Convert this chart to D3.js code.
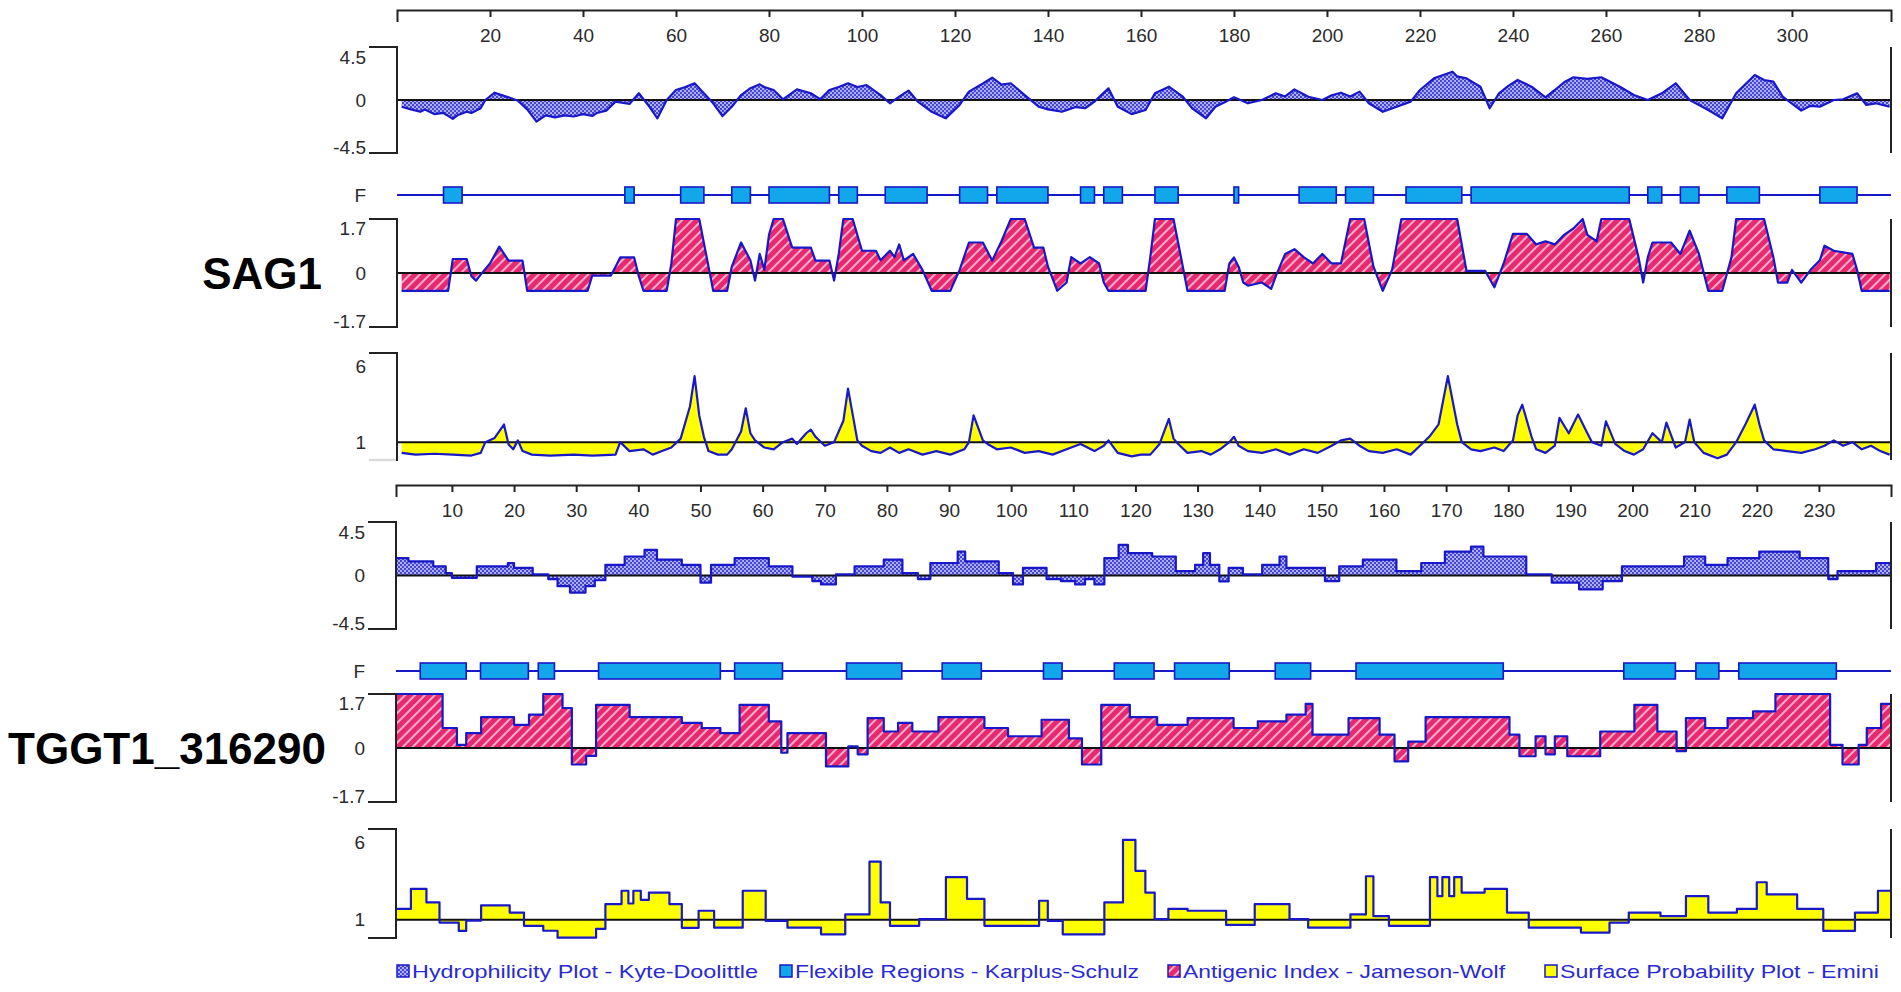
<!DOCTYPE html>
<html>
<head>
<meta charset="utf-8">
<script src="https://cdn.jsdelivr.net/npm/d3@7"></script>
<style>
  body { margin: 0; background: #fff; }
  svg text { font-family: "Liberation Sans", Arial, sans-serif; }
</style>
</head>
<body>
<svg id="chart" width="1901" height="992"></svg>
<script>
// ---- SAG1 (residue, value) ----
const sag1Ticks = [20, 40, 60, 80, 100, 120, 140, 160, 180, 200, 220, 240, 260, 280, 300];

const sag1Hydro = [
  [1,-0.57],[3,-0.8],[5,-1.0],[6,-0.8],[8,-1.2],[10,-1.1],[12,-1.6],[13,-1.3],[15,-1.0],[16,-1.1],[18,-0.7],[19,0],[21,0.62],
  [23,0.35],[24,0.23],[26,-0.06],[28,-0.8],[30,-1.84],[32,-1.3],[34,-1.47],[36,-1.3],[38,-1.4],[40,-1.2],[42,-1.36],
  [43,-1.1],[45,-0.9],[47,-0.14],[50,-0.34],[52,0.57],[54,-0.42],[56,-1.56],[58,0],[60,0.85],[62,1.1],[64,1.42],[66,0.57],
  [68,-0.28],[70,-1.36],[72,-0.57],[74,0.42],[76,1.0],[78,1.33],[79,1.1],[81,0.85],[83,0.06],[86,0.9],[89,0.57],[91,0.06],
  [93,0.85],[95,1.1],[97,1.42],[99,1.1],[101,1.27],[104,0.42],[106,-0.28],[108,0.28],[110,0.8],[112,-0.14],[115,-1.0],
  [118,-1.56],[121,-0.42],[123,0.71],[126,1.4],[128,1.9],[130,1.3],[132,1.42],[135,0.42],[138,-0.57],[140,-0.8],
  [143,-1.0],[146,-0.6],[148,-0.7],[150,-0.14],[153,0.99],[155,-0.57],[158,-1.2],[161,-0.85],[163,0.57],[166,1.13],
  [169,0.28],[171,-0.7],[174,-1.56],[176,-0.57],[178,-0.2],[180,0.23],[183,-0.28],[186,0],[189,0.57],[191,0.3],[193,0.9],
  [196,0.28],[199,0],[201,0.4],[203,0.62],[205,0.3],[207,0.71],[209,-0.28],[212,-1.0],[215,-0.57],[218,-0.14],[220,0.85],
  [223,1.84],[227,2.4],[228,2.0],[230,1.84],[233,1.13],[235,-0.7],[237,0.57],[239,1.2],[241,1.7],[244,1.13],[247,0.23],
  [249,0.85],[251,1.5],[253,1.93],[256,1.8],[259,1.93],[263,1.13],[266,0.42],[269,0],[272,0.57],[275,1.42],[278,0],
  [282,-0.85],[285,-1.56],[288,0.57],[292,2.12],[294,1.7],[296,1.56],[298,0.28],[302,-0.9],[304,-0.5],[306,-0.57],
  [309,0],[311,0.06],[314,0.57],[316,-0.42],[318,-0.28],[321,-0.57]
];

const sag1Flex = [
  [10,14],[49,51],[61,66],[72,76],[80,93],[95,99],[105,114],[121,127],[129,140],[147,150],[152,156],[163,168],
  [180,181],[194,202],[204,210],[217,229],[231,265],[269,272],[276,280],[286,293],[306,314]
];

const sag1Anti = [
  [1,-0.56],[11,-0.56],[12,0.44],[15,0.44],[16,-0.1],[17,-0.24],[18,-0.05],[20,0.3],[22,0.83],[24,0.39],[27,0.39],
  [28,-0.56],[41,-0.56],[42,-0.08],[46,-0.08],[47,0.2],[48,0.49],[51,0.49],[52,-0.1],[53,-0.56],[58,-0.56],[59,0.3],
  [60,1.7],[65,1.7],[67,0.2],[68,-0.56],[71,-0.56],[72,0.2],[74,0.96],[76,0.4],[77,-0.24],[78,0.6],[79,0.1],[80,1.2],
  [81,1.7],[83,1.7],[85,0.8],[89,0.8],[90,0.39],[93,0.39],[94,-0.24],[95,0.6],[96,1.7],[98,1.7],[100,0.7],[103,0.7],
  [104,0.4],[106,0.7],[107,0.5],[108,0.9],[109,0.4],[111,0.6],[113,0.1],[115,-0.56],[119,-0.56],[121,0.1],[123,0.96],
  [126,0.96],[128,0.39],[130,1.0],[132,1.7],[135,1.7],[137,0.8],[139,0.8],[140,0.2],[142,-0.56],[144,-0.3],[145,0.5],
  [147,0.3],[149,0.5],[151,0.3],[152,-0.3],[153,-0.56],[161,-0.56],[162,0.5],[163,1.7],[167,1.7],[169,0.2],[170,-0.56],
  [178,-0.56],[179,0.3],[180,0.49],[181,0.2],[182,-0.3],[183,-0.4],[186,-0.3],[188,-0.5],[189,-0.1],[191,0.6],[193,0.75],
  [195,0.5],[197,0.3],[199,0.6],[201,0.3],[203,0.3],[205,1.7],[208,1.7],[210,0.2],[212,-0.56],[214,0.1],[216,1.7],
  [228,1.7],[230,0.07],[234,0.07],[236,-0.45],[238,0.3],[240,1.23],[243,1.23],[245,0.9],[247,1.0],[249,0.9],[251,1.2],
  [253,1.4],[255,1.7],[256,1.2],[258,1.0],[259,1.7],[265,1.7],[267,0.5],[268,-0.3],[269,0.5],[270,0.96],[274,0.96],
  [276,0.6],[278,1.33],[280,0.6],[282,-0.56],[285,-0.56],[287,0.5],[288,1.7],[294,1.7],[296,0.5],[297,-0.3],[299,-0.3],
  [300,0.1],[302,-0.3],[304,0.1],[306,0.4],[307,0.86],[309,0.7],[313,0.6],[314,0.1],[315,-0.56],[321,-0.56]
];

const sag1Surf = [
  [1,0.4],[4,0.3],[8,0.35],[12,0.3],[16,0.25],[18,0.4],[19,1.0],[21,1.24],[23,1.99],[24,0.87],[25,0.6],[26,1.1],[27,0.5],
  [29,0.3],[33,0.25],[38,0.3],[42,0.25],[47,0.3],[48,1.0],[50,0.5],[53,0.6],[55,0.3],[57,0.5],[59,0.7],[61,1.2],[63,3.0],
  [64,4.7],[65,2.5],[66,1.3],[67,0.5],[69,0.3],[71,0.3],[72,0.6],[74,1.6],[75,2.9],[76,1.5],[77,1.1],[79,0.7],[81,0.6],
  [83,1.0],[85,1.2],[86,0.9],[88,1.5],[89,1.7],[90,1.3],[92,0.8],[94,1.0],[96,2.2],[97,4.0],[99,1.1],[100,0.8],[102,0.5],
  [104,0.4],[106,0.7],[108,0.4],[110,0.6],[113,0.3],[116,0.5],[119,0.3],[122,0.6],[123,1.0],[124,2.5],[126,1.1],[127,0.9],
  [129,0.6],[132,0.7],[135,0.4],[138,0.5],[141,0.3],[144,0.6],[147,0.9],[150,0.5],[152,0.8],[153,1.1],[155,0.4],[158,0.2],
  [160,0.3],[162,0.3],[164,0.9],[166,2.3],[167,1.2],[168,0.9],[170,0.4],[173,0.5],[175,0.3],[177,0.6],[179,1.0],[180,1.3],
  [181,0.8],[183,0.5],[186,0.4],[189,0.6],[192,0.3],[195,0.6],[198,0.4],[201,0.8],[203,1.1],[205,1.2],[207,0.8],[209,0.5],
  [212,0.4],[215,0.6],[218,0.3],[220,0.8],[222,1.3],[224,2.0],[226,4.7],[228,2.0],[229,1.0],[231,0.6],[233,0.5],[236,0.7],
  [238,0.5],[240,1.1],[241,2.5],[242,3.1],[244,1.3],[245,0.6],[247,0.4],[249,0.8],[250,2.36],[252,1.5],[254,2.55],
  [256,1.5],[257,1.0],[259,0.8],[260,2.17],[262,0.9],[264,0.5],[266,0.3],[268,0.6],[270,1.5],[272,1.0],[273,2.1],[275,0.7],
  [277,1.0],[278,2.27],[279,1.0],[281,0.4],[284,0.1],[286,0.3],[288,1.0],[290,2.0],[292,3.1],[293,2.0],[294,1.1],[296,0.6],
  [299,0.5],[302,0.4],[305,0.6],[307,0.8],[309,1.1],[311,0.8],[313,1.0],[315,0.6],[317,0.8],[319,0.5],[321,0.3]
];

// ---- TGGT1_316290 (step plots: value holds from residue onward) ----
const tgTicks = [10, 20, 30, 40, 50, 60, 70, 80, 90, 100, 110, 120, 130, 140, 150, 160, 170, 180, 190, 200, 210, 220, 230];

const tgHydro = [
  [1,1.46],[3,1.19],[7,0.77],[9,0.2],[10,-0.2],[14,0.77],[19,1.05],[20,0.64],[23,0.1],[25.5,-0.3],[27,-0.9],[29,-1.44],
  [31.5,-0.9],[33,-0.4],[34.7,0.9],[37.8,1.6],[41,2.15],[43,1.33],[47,0.9],[50,-0.6],[51.7,0.9],[55.5,1.46],[61,0.77],
  [64.8,-0.1],[68,-0.47],[69.4,-0.75],[71.8,0.1],[74.8,0.77],[79.5,1.33],[82.5,0.2],[85,-0.3],[87,1.05],[91.4,2.0],
  [92.6,1.19],[98,0.2],[100.3,-0.75],[101.9,0.64],[105.7,-0.3],[108,-0.47],[110.3,-0.75],[111.9,-0.3],[113.4,-0.75],
  [115,1.46],[117.3,2.57],[118.8,1.88],[122.7,1.6],[126.5,0.36],[129.6,0.9],[130.9,1.88],[132,0.9],[133.5,-0.5],
  [135,0.64],[137.3,0.1],[140.4,0.9],[143.2,1.6],[144.3,0.64],[150.5,-0.47],[152.8,0.77],[156.6,1.33],[162,0.36],
  [166,1.05],[169.8,2.0],[174,2.43],[176,1.6],[182.9,0.1],[187,-0.6],[191.4,-1.16],[195.2,-0.47],[198.3,0.77],
  [208.3,1.6],[211.7,0.9],[215.3,1.46],[220.4,2.0],[226.9,1.46],[231.5,-0.3],[233,0.36],[239.2,1.05],[241.6,1.05]
];

const tgFlex = [
  [4.9,12.3],[14.6,22.3],[23.9,26.5],[33.6,53.2],[55.5,63.2],[73.5,82.4],[88.9,95.2],[105.2,108.2],[116.6,123],
  [126.3,135.1],[142.5,148.2],[155.5,179.2],[198.6,206.9],[210.2,213.9],[217.1,232.8]
];

const tgAnti = [
  [1,1.7],[8.5,0.63],[10.8,0.1],[12.3,0.47],[14.7,0.97],[20,0.73],[22.4,1.05],[24.7,1.7],[27.8,1.26],[29.3,-0.52],
  [31.6,-0.25],[33.2,1.36],[38.6,0.97],[47,0.79],[50.2,0.63],[53.2,0.47],[56.3,1.36],[61,0.84],[63,-0.15],[64,0.47],
  [70.2,-0.58],[73.8,0.05],[75.3,-0.2],[76.9,0.94],[79.5,0.52],[81.8,0.79],[84.1,0.52],[88.3,0.97],[95.7,0.63],
  [99.5,0.37],[104.9,0.89],[109.3,0.3],[111.4,-0.52],[114.5,1.36],[119.1,0.97],[123.5,0.73],[128.4,0.94],[135.8,0.63],
  [139.7,0.84],[144.3,1.05],[147.4,1.39],[148.5,0.42],[154.3,0.94],[159.3,0.42],[161.7,-0.42],[163.9,0.2],[166.7,0.97],
  [180.2,0.42],[181.8,-0.26],[184.4,0.37],[186,-0.2],[187.5,0.37],[189.5,-0.26],[194.8,0.52],[200.3,1.36],[204,0.52],
  [207.1,-0.1],[208.6,0.94],[211.7,0.63],[215.3,0.94],[219.4,1.15],[223,1.7],[231.8,0.1],[233.8,-0.52],[236.4,0.1],
  [237.7,0.63],[240,1.39],[241.6,1.39]
];

const tgSurf = [
  [1,1.6],[3.4,2.7],[5.9,1.96],[8,0.85],[11.1,0.39],[12.3,0.96],[14.7,1.8],[19.3,1.4],[21.6,0.67],[24.7,0.4],[27,0.02],
  [33.2,0.5],[34.7,1.87],[37.3,2.6],[38.4,1.9],[39.2,2.6],[40.4,2.1],[41.7,2.5],[45,1.87],[47,0.56],[49.7,1.5],[52.2,0.57],
  [56.8,2.6],[60.5,0.94],[64,0.57],[69.4,0.2],[73.3,1.3],[77.2,4.2],[79,1.96],[80.5,0.67],[85.2,1.04],[89.5,3.35],
  [92.9,2.15],[95.7,0.67],[104.5,2.05],[105.9,0.94],[108.3,0.2],[115,1.96],[118,5.4],[120,3.7],[121.6,2.5],[123.1,1.04],
  [125.3,1.6],[128.4,1.5],[134.6,0.72],[139.2,1.87],[144.8,1.04],[147.8,0.57],[154.6,1.3],[157.1,3.4],[158.3,1.2],
  [160.8,0.67],[167.4,3.35],[168.6,2.3],[169.4,3.35],[170.5,2.3],[171.3,3.35],[172.5,2.5],[176.2,2.7],[179.8,1.4],
  [183.3,0.57],[191.7,0.3],[196.3,0.85],[199.4,1.4],[204.5,1.2],[208.6,2.3],[212.2,1.4],[216.8,1.6],[220,3.07],[221.6,2.4],
  [226.5,1.6],[230.7,0.39],[235.8,1.4],[239.5,2.6],[241.6,2.6]
];

const legendItems = [
  "Hydrophilicity Plot - Kyte-Doolittle",
  "Flexible Regions - Karplus-Schulz",
  "Antigenic Index - Jameson-Wolf",
  "Surface Probability Plot - Emini"
];

// ---- drawing ----
const svg = d3.select("#chart");
const defs = svg.append("defs");
const ink = "#1818c8";
const axisInk = "#222";
const labelInk = "#2b2b2b";

// dotted blue fill for hydrophilicity
const ph = defs.append("pattern").attr("id", "fillHydro")
  .attr("patternUnits", "userSpaceOnUse").attr("width", 4).attr("height", 4);
ph.append("rect").attr("width", 4).attr("height", 4).attr("fill", "#aeaef2");
ph.append("rect").attr("width", 2).attr("height", 2).attr("fill", "#4646d6");
ph.append("rect").attr("x", 2).attr("y", 2).attr("width", 2).attr("height", 2).attr("fill", "#4646d6");

// pink with white diagonal stripes for antigenic index
const pa = defs.append("pattern").attr("id", "fillAnti")
  .attr("patternUnits", "userSpaceOnUse").attr("width", 7).attr("height", 7)
  .attr("patternTransform", "rotate(45)");
pa.append("rect").attr("width", 7).attr("height", 7).attr("fill", "#e8286f");
pa.append("line").attr("x1", 1).attr("y1", 0).attr("x2", 1).attr("y2", 7)
  .attr("stroke", "#fbd3e2").attr("stroke-width", 1.6);

const fills = { hydro: "url(#fillHydro)", anti: "url(#fillAnti)", surf: "#ffff00", flex: "#12a6ea" };

function yBracket(parent, left, right, top, bottom, labels, bottomTickColor) {
  const g = parent.append("g");
  g.append("path")
    .attr("d", `M${left - 28},${top}H${left}V${bottom}H${left - 28}`)
    .attr("fill", "none").attr("stroke", axisInk).attr("stroke-width", 2);
  if (bottomTickColor) {
    g.append("path").attr("d", `M${left - 28},${bottom}H${left - 1}`)
      .attr("stroke", bottomTickColor).attr("stroke-width", 2.5);
  }
  g.append("path").attr("d", `M${right},${top}V${bottom}`)
    .attr("stroke", axisInk).attr("stroke-width", 2);
  g.selectAll("text").data(labels).join("text")
    .attr("x", left - 31).attr("y", d => d.y)
    .attr("text-anchor", "end").attr("dominant-baseline", "central")
    .attr("font-size", 19).attr("fill", labelInk)
    .text(d => d.t);
}

function track(g, x, y, data, base, fill, curve) {
  const area = d3.area().x(d => x(d[0])).y0(y(base)).y1(d => y(d[1])).curve(curve);
  const line = d3.line().x(d => x(d[0])).y(d => y(d[1])).curve(curve);
  g.append("path").datum(data).attr("d", area).attr("fill", fill);
  g.append("line")
    .attr("x1", x.range()[0]).attr("x2", x.range()[1])
    .attr("y1", y(base)).attr("y2", y(base))
    .attr("stroke", "#111").attr("stroke-width", 2);
  g.append("path").datum(data).attr("d", line)
    .attr("fill", "none").attr("stroke", ink).attr("stroke-width", 2.2)
    .attr("stroke-linejoin", "round");
}

function drawPanel(p) {
  const g = svg.append("g");
  const x = d3.scaleLinear().domain(p.domain).range([p.left, 1891]);
  const [x0, x1] = x.range();

  // residue axis on top
  const ax = g.append("g").attr("transform", `translate(0,${p.axisY})`)
    .call(d3.axisBottom(x).tickValues(p.ticks).tickSizeInner(7).tickSizeOuter(12).tickPadding(12));
  ax.select(".domain").attr("stroke", axisInk).attr("stroke-width", 2);
  ax.selectAll(".tick line").attr("stroke", axisInk).attr("stroke-width", 2);
  ax.selectAll(".tick text").attr("font-size", 19).attr("fill", labelInk)
    .attr("font-family", "Liberation Sans, Arial, sans-serif");

  // hydrophilicity
  const yH = d3.scaleLinear().domain([-4.5, 4.5]).range([p.hydro[1], p.hydro[0]]);
  track(g, x, yH, p.hydroData, 0, fills.hydro, p.curve);
  yBracket(g, x0, x1, p.hydro[0], p.hydro[1], [
    { t: "4.5", y: p.hydro[0] + 10 }, { t: "0", y: yH(0) }, { t: "-4.5", y: p.hydro[1] - 6 }
  ]);

  // flexible regions
  g.append("line").attr("x1", x0).attr("x2", x1).attr("y1", p.flexY).attr("y2", p.flexY)
    .attr("stroke", ink).attr("stroke-width", 2);
  g.selectAll("rect.flex").data(p.flexData).join("rect")
    .attr("class", "flex")
    .attr("x", d => x(d[0])).attr("width", d => x(d[1]) - x(d[0]))
    .attr("y", p.flexY - 8).attr("height", 16)
    .attr("fill", fills.flex).attr("stroke", ink).attr("stroke-width", 1.6);
  g.append("text").attr("x", x0 - 31).attr("y", p.flexY)
    .attr("text-anchor", "end").attr("dominant-baseline", "central")
    .attr("font-size", 19).attr("fill", labelInk).text("F");

  // antigenic index
  const yA = d3.scaleLinear().domain([-1.7, 1.7]).range([p.anti[1], p.anti[0]]);
  track(g, x, yA, p.antiData, 0, fills.anti, p.curve);
  yBracket(g, x0, x1, p.anti[0], p.anti[1], [
    { t: "1.7", y: p.anti[0] + 9 }, { t: "0", y: yA(0) }, { t: "-1.7", y: p.anti[1] - 6 }
  ]);

  // surface probability
  const yS = d3.scaleLinear().domain([0, 6]).range([p.surf[1], p.surf[0]]);
  track(g, x, yS, p.surfData, 1, fills.surf, p.curve);
  yBracket(g, x0, x1, p.surf[0], p.surf[1], [
    { t: "6", y: p.surf[0] + 13 }, { t: "1", y: yS(1) }
  ], p.surfBottomTick);

  // protein name
  g.append("text").attr("x", p.nameX).attr("y", yA(0) + 16)
    .attr("text-anchor", "end").attr("font-size", 44).attr("font-weight", "bold")
    .attr("fill", "#000").text(p.name);
}

drawPanel({
  name: "SAG1", nameX: 322,
  domain: [0, 321.3], left: 397, ticks: sag1Ticks, axisY: 10, curve: d3.curveLinear,
  hydro: [47, 153], flexY: 195, anti: [219, 327], surf: [353, 460], surfBottomTick: "#dcdcdc",
  hydroData: sag1Hydro, flexData: sag1Flex, antiData: sag1Anti, surfData: sag1Surf
});

drawPanel({
  name: "TGGT1_316290", nameX: 326,
  domain: [1, 241.6], left: 396, ticks: tgTicks, axisY: 485, curve: d3.curveStepAfter,
  hydro: [522, 629], flexY: 671, anti: [694, 802], surf: [829, 938],
  hydroData: tgHydro, flexData: tgFlex, antiData: tgAnti, surfData: tgSurf
});

// legend
const legendX = [397, 780, 1168, 1545];
const legendW = [373, 371, 349, 346];
const legendFill = [fills.hydro, fills.flex, fills.anti, fills.surf];
const lg = svg.append("g").attr("transform", "translate(0,971)");
legendItems.forEach((t, i) => {
  lg.append("rect").attr("x", legendX[i]).attr("y", -6).attr("width", 12).attr("height", 12)
    .attr("fill", legendFill[i]).attr("stroke", ink).attr("stroke-width", 1.5);
  lg.append("text").attr("x", legendX[i] + 15).attr("y", 0)
    .attr("dominant-baseline", "central").attr("font-size", 19).attr("fill", "#2a2ad0")
    .attr("textLength", legendW[i] - 27).attr("lengthAdjust", "spacingAndGlyphs")
    .text(t);
});
</script>
</body>
</html>
